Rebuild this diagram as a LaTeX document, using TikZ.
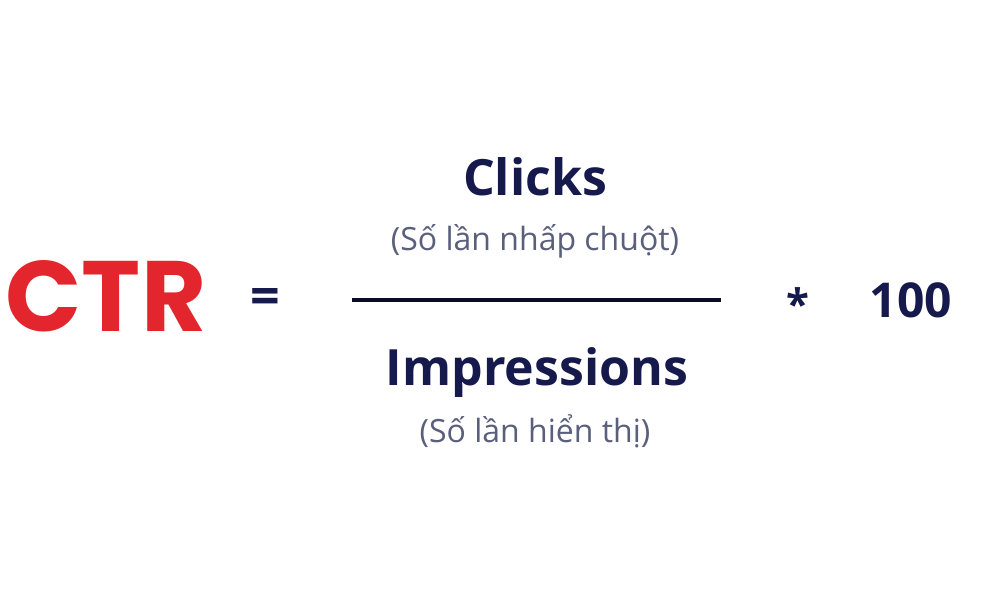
\documentclass[tikz,border=0pt]{standalone}
\usepackage{fontspec}
\setmainfont{Open Sans}
\newfontfamily\ctrfont{Poppins}
\definecolor{ctrred}{HTML}{E3262D}
\definecolor{navy}{HTML}{15194B}
\definecolor{subgray}{HTML}{5A5F7C}
\begin{document}
\begin{tikzpicture}[x=0.5pt,y=-0.5pt,
  every node/.style={inner sep=0pt,outer sep=0pt},
  bigterm/.style={font=\fontsize{25}{30}\selectfont\bfseries,text=navy},
  subterm/.style={font=\fontsize{16}{20}\selectfont,text=subgray},
  oper/.style={font=\fontsize{26}{30}\selectfont\bfseries,text=navy}]
\useasboundingbox[fill=white] (0,0) rectangle (1000,600);
\node[anchor=base,font=\ctrfont\fontsize{50}{54}\selectfont\bfseries,text=ctrred] (ctr) at (106,331) {CTR};
\node[oper] (eq) at (265,301) {=};
\node[bigterm,anchor=base] (clicks) at (535,195) {Clicks};
\node[subterm,anchor=base] (clicksub) at (535,250) {(Số lần nhấp chuột)};
\coordinate (la) at (352,300);
\coordinate (lb) at (721,300);
\draw[navy!50!black,line width=2pt] (la) -- (lb);
\node[bigterm,anchor=base] (impr) at (537,385) {Impressions};
\node[subterm,anchor=base] (imprsub) at (535,442) {(Số lần hiển thị)};
\node[oper,font=\fontsize{21}{26}\selectfont\bfseries] (times) at (798,304) {*};
\node[anchor=base,font=\fontsize{24}{28}\selectfont\bfseries,text=navy] (hundred) at (911,317) {100};
\end{tikzpicture}
\end{document}
